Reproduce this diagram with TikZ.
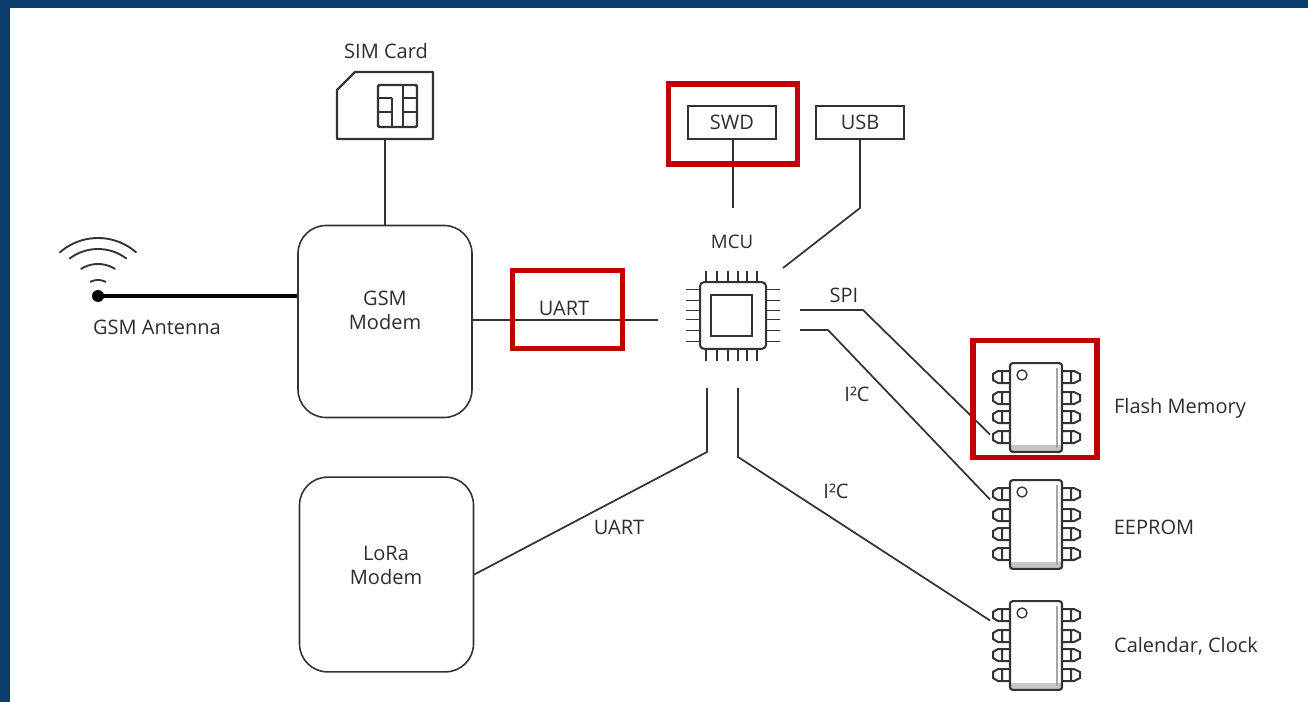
\documentclass[tikz,border=0pt]{standalone}
\usepackage{fontspec}
\setmainfont{Open Sans}
\definecolor{BandBlue}{HTML}{0A3D6B}
\definecolor{MarkRed}{HTML}{C00000}
\definecolor{WireGray}{HTML}{333333}
\definecolor{LabelGray}{HTML}{2E2E2E}
\tikzset{
  lbl/.style={text=LabelGray,font=\fontsize{15}{18}\selectfont,align=center,inner sep=0pt},
  modem/.style={draw=WireGray,line width=1.2pt,rounded corners=21pt,minimum width=130.5pt,minimum height=144pt},
  port/.style={draw=WireGray,line width=1.3pt,minimum width=66pt,minimum height=24.5pt,inner sep=0pt},
  wire/.style={draw=WireGray,line width=1.3pt},
  redbox/.style={draw=MarkRed,line width=3.9pt},
  soic/.pic={
    \fill[gray!45] (-25,37) rectangle (25,43);
    \node[draw=WireGray,line width=1.6pt,rounded corners=2pt,minimum width=39pt,minimum height=66.5pt,inner sep=0pt] (-body) at (0,0) {};
    \draw[gray!70,line width=.9pt] (21,-40) -- (21,40);
    \draw[WireGray,line width=1pt] (-14,-32.5) circle (5);
    \foreach \py in {-30.5,-9.5,9.5,29.5}{
      \draw[WireGray,line width=1.5pt] (-26,\py-6) -- (-38,\py-6) -- (-43,\py-3) -- (-43,\py+3) -- (-38,\py+6) -- (-26,\py+6) (-34,\py-6) -- (-34,\py+6);
      \draw[WireGray,line width=1.5pt] (26,\py-6) -- (38,\py-6) -- (44,\py-3) -- (44,\py+3) -- (38,\py+6) -- (26,\py+6) (35,\py-6) -- (35,\py+6);
    }
    \coordinate (-top) at (-46,-25);
    \coordinate (-low) at (-46,27);
  },
  mcuchip/.pic={
    \node[draw=WireGray,line width=1.5pt,rounded corners=3pt,minimum width=49.5pt,minimum height=50pt,inner sep=0pt] (-body) at (0,0) {};
    \node[draw=WireGray,line width=1.5pt,minimum width=31pt,minimum height=31pt,inner sep=0pt] (-core) at (-1.5,0) {};
    \foreach \pa in {-27,-16,-5,5,14,24}{
      \draw[WireGray,line width=1.3pt] (\pa,-45) -- ++(0,12) (\pa,33) -- ++(0,12);
    }
    \foreach \pb in {-26,-15,-5,4,15,26}{
      \draw[WireGray,line width=1.3pt] (-47,\pb) -- ++(14,0) (33,\pb) -- ++(14,0);
    }
  }
}
\begin{document}
\begin{tikzpicture}[x=.75pt,y=-.75pt]
\useasboundingbox (0,0) rectangle (1308,702);
\fill[white] (0,0) rectangle (1308,702);
\fill[BandBlue] (0,0) rectangle (1308,8);
\fill[BandBlue] (0,0) rectangle (10,702);

\node[modem] (gsm) at (385,321.5) {};
\node[modem,minimum height=146pt] (lora) at (386.5,574.5) {};
\node[lbl] (gsmtext) at (385,310) {GSM\\Modem};
\node[lbl] (loratext) at (386,565) {LoRa\\Modem};

% sim card
\node[inner sep=0pt,minimum width=72pt,minimum height=50pt] (sim) at (385,105.5) {};
\draw[WireGray,line width=1.8pt,line join=round] (337,90) -- (355,72) -- (433,72) -- (433,139) -- (337,139) -- cycle;
\draw[WireGray,line width=1.8pt,rounded corners=1pt] (378,85) rectangle (417,127);
\draw[WireGray,line width=1.4pt] (403,85) -- (403,127) (392,98) -- (392,127) (378,98) -- (392,98) (378,112) -- (392,112) (403,98) -- (417,98) (403,112) -- (417,112);
\node[lbl] (simtext) at (386,51) {SIM Card};

% antenna
\coordinate (ant) at (98,296);
\foreach \rr/\aa in {16/28,32/32,47/37,58/41}{
  \draw[WireGray,line width=1.4pt,line cap=round] plot[domain=-\aa:\aa,samples=11,smooth] ({98+\rr*sin(\x)},{296-\rr*cos(\x)});
}
\fill[black] (ant) circle (6);
\draw[black,line width=2.8pt] (ant) -- (gsm.west |- ant);
\node[lbl] (anttext) at (157,327) {GSM Antenna};

% mcu and ports
\pic (mcu) at (733,315.5) {mcuchip};
\node[lbl,font=\fontsize{14}{15}\selectfont] (mcutext) at (732,242) {MCU};
\node[port] (swd) at (732,122.5) {};
\node[lbl] at (swd) (swdtext) {SWD};
\node[port] (usb) at (860,122.5) {};
\node[lbl] at (usb) (usbtext) {USB};

\pic (flash) at (1036,407.5) {soic};
\pic (eeprom) at (1036,524.5) {soic};
\pic (clock) at (1036,645.5) {soic};
\node[lbl] (flashtext) at (1180,408) {Flash Memory};
\node[lbl] (eepromtext) at (1154,527) {EEPROM};
\node[lbl] (clocktext) at (1186,646) {Calendar, Clock};

% free ends near the mcu
\coordinate (swdend) at (733,208);
\coordinate (usbend) at (783,268);
\coordinate (uartend) at (658,320);
\coordinate (spiend) at (800,310);
\coordinate (i2cend) at (800,330);
\coordinate (loraend) at (707,388);
\coordinate (rtcend) at (738,388);

\draw[wire] (sim.south) -- (gsm.north);
\draw[wire] (swd.south -| swdend) -- (swdend);
\draw[wire] (usb.south) -- (860,208) -- (usbend);
\draw[wire] (gsm.east |- uartend) -- (uartend);
\draw[wire] (spiend) -- (863,310) -- (flash-low);
\draw[wire] (i2cend) -- (828,330) -- (eeprom-top);
\draw[wire] (rtcend) -- (738,457) -- (clock-top);
\draw[wire] (loraend) -- (707,452) -- (lora.east);

\node[lbl] (uarta) at (564,308) {UART};
\node[lbl] (uartb) at (619,527) {UART};
\node[lbl] (spitext) at (844,295) {SPI};
\node[lbl] (i2ca) at (857,394) {I²C};
\node[lbl] (i2cb) at (836,491) {I²C};

% red marks
\node[redbox,minimum width=97pt,minimum height=60pt,inner sep=0pt] (marka) at (733,124) {};
\node[redbox,minimum width=82pt,minimum height=59pt,inner sep=0pt] (markb) at (567.5,309.5) {};
\node[redbox,minimum width=93pt,minimum height=88pt,inner sep=0pt] (markc) at (1035,399) {};
\end{tikzpicture}
\end{document}
